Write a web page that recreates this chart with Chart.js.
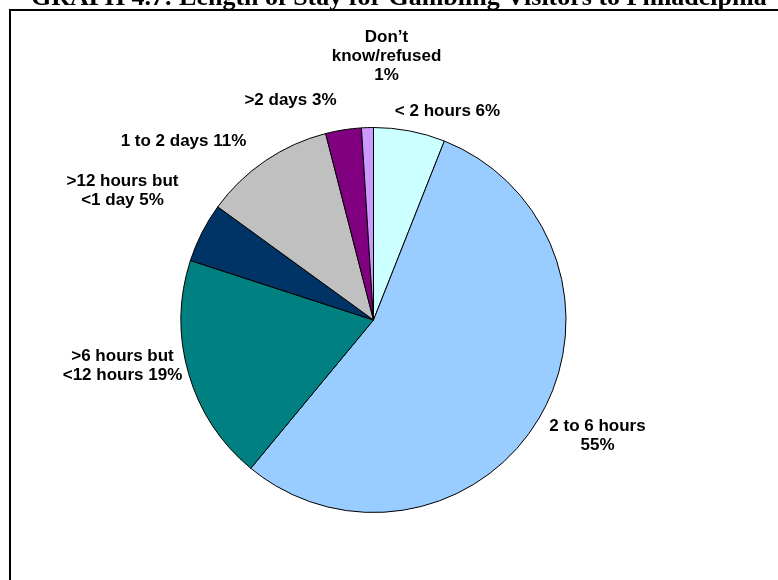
<!DOCTYPE html>
<html>
<head>
<meta charset="utf-8">
<script src="https://cdn.jsdelivr.net/npm/chart.js@4.4.1/dist/chart.umd.min.js"></script>
<style>
  html, body { margin: 0; padding: 0; background: #fff; }
  #wrap { position: relative; width: 778px; height: 580px; }
</style>
</head>
<body>
<div id="wrap"><canvas id="c" width="778" height="580"></canvas></div>
<script>
// Length of stay categories, clockwise from 12 o'clock
const categories = [
  '< 2 hours',
  '2 to 6 hours',
  '>6 hours but <12 hours',
  '>12 hours but <1 day',
  '1 to 2 days',
  '>2 days',
  'Don\u2019t know/refused'
];
// Share of visitors (%)
const shares = [6, 55, 19, 5, 11, 3, 1];
// Text lines of each slice label
const labelLines = [
  ['< 2 hours 6%'],
  ['2 to 6 hours', '55%'],
  ['>6 hours but', '<12 hours 19%'],
  ['>12 hours but', '<1 day 5%'],
  ['1 to 2 days 11%'],
  ['>2 days 3%'],
  ['Don\u2019t', 'know/refused', '1%']
];
const sliceColors = ['#CCFFFF', '#99CCFF', '#008080', '#003366', '#C0C0C0', '#800080', '#CC99FF'];

// Label anchor offsets from the pie centre (px)
const labelOffsets = [
  [74, -209], [224, 116], [-251, 46], [-251, -129], [-190, -179], [-83, -220], [13, -264]
];

const frameAndTitle = {
  id: 'frameAndTitle',
  beforeDraw(chart) {
    const ctx = chart.ctx;
    ctx.save();
    ctx.fillStyle = '#fff';
    ctx.fillRect(0, 0, chart.width, chart.height);
    ctx.fillStyle = '#000';
    ctx.font = 'bold 26px "Liberation Serif", "Times New Roman", serif';
    ctx.textAlign = 'left';
    ctx.textBaseline = 'alphabetic';
    ctx.fillText('GRAPH 4.7: Length of Stay for Gambling Visitors to Philadelphia', 31, 5);
    ctx.strokeStyle = '#000';
    ctx.lineWidth = 2;
    ctx.beginPath();
    ctx.moveTo(10, chart.height + 2);
    ctx.lineTo(10, 10);
    ctx.lineTo(chart.width + 2, 10);
    ctx.stroke();
    ctx.restore();
  }
};

const sliceLabels = {
  id: 'sliceLabels',
  afterDatasetsDraw(chart) {
    const ctx = chart.ctx;
    const meta = chart.getDatasetMeta(0);
    ctx.save();
    ctx.fillStyle = '#000';
    ctx.font = 'bold 17px "Liberation Sans", Arial, sans-serif';
    ctx.textAlign = 'center';
    ctx.textBaseline = 'middle';
    const lh = 19;
    meta.data.forEach((arc, i) => {
      const cx = arc.x + labelOffsets[i][0];
      const cy = arc.y + labelOffsets[i][1];
      const lines = labelLines[i];
      const y0 = cy - (lines.length - 1) * lh / 2;
      lines.forEach((t, k) => ctx.fillText(t, cx, y0 + k * lh));
    });
    ctx.restore();
  }
};

new Chart(document.getElementById('c'), {
  type: 'pie',
  data: {
    labels: categories,
    datasets: [{
      data: shares,
      backgroundColor: sliceColors,
      borderColor: '#000',
      borderWidth: 1
    }]
  },
  options: {
    responsive: false,
    animation: false,
    layout: { padding: { top: 127, left: 180, right: 211, bottom: 67 } },
    plugins: {
      legend: { display: false },
      tooltip: { enabled: false },
      title: { display: false }
    }
  },
  plugins: [frameAndTitle, sliceLabels]
});
</script>
</body>
</html>
